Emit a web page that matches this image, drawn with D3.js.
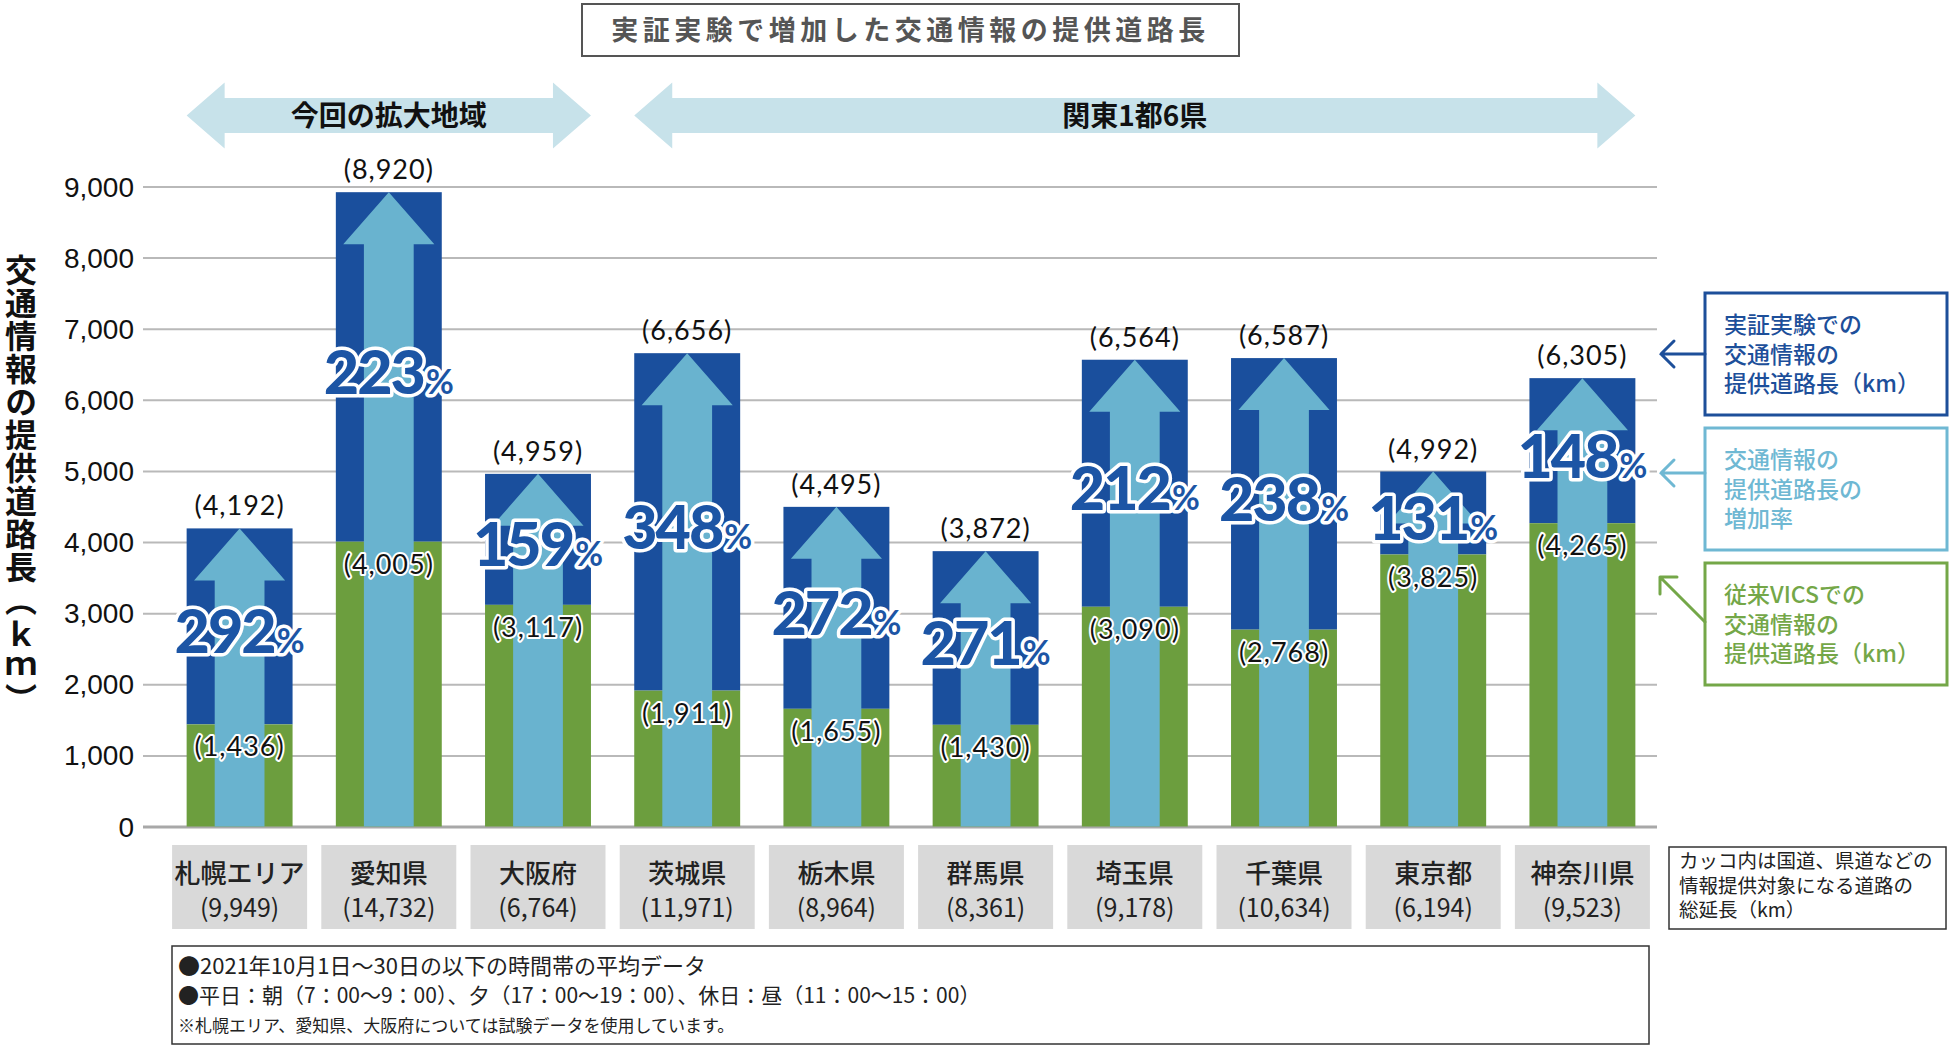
<!DOCTYPE html>
<html lang="ja">
<head>
<meta charset="utf-8">
<script src="https://cdn.jsdelivr.net/npm/d3@7"></script>
<style>
  html, body { margin: 0; padding: 0; background: #fff; }
  svg { display: block; }
  .jp { font-family: "Noto Sans CJK JP", "Noto Sans", sans-serif; }
</style>
</head>
<body>
<svg id="chart" width="1950" height="1046"></svg>
<script>
// ---- data ----
const categories = ["札幌エリア", "愛知県", "大阪府", "茨城県", "栃木県", "群馬県", "埼玉県", "千葉県", "東京都", "神奈川県"];
const roadTotals = [9949, 14732, 6764, 11971, 8964, 8361, 9178, 10634, 6194, 9523];
const vicsValues = [1436, 4005, 3117, 1911, 1655, 1430, 3090, 2768, 3825, 4265];
const trialValues = [4192, 8920, 4959, 6656, 4495, 3872, 6564, 6587, 4992, 6305];
const increaseRates = [292, 223, 159, 348, 272, 271, 212, 238, 131, 148];
const yTicks = [0, 1000, 2000, 3000, 4000, 5000, 6000, 7000, 8000, 9000];
const groupLabels = ["今回の拡大地域", "関東1都6県"];
const groupFrom = ["札幌エリア", "茨城県"];
const groupTo = ["大阪府", "神奈川県"];
const titleText = "実証実験で増加した交通情報の提供道路長";
const yAxisTitle = "交通情報の提供道路長（ｋｍ）";
const legendTexts = [
  ["実証実験での", "交通情報の", "提供道路長（km）"],
  ["交通情報の", "提供道路長の", "増加率"],
  ["従来VICSでの", "交通情報の", "提供道路長（km）"]
];
const noteText = ["カッコ内は国道、県道などの", "情報提供対象になる道路の", "総延長（km）"];
const footText = [
  "●2021年10月1日～30日の以下の時間帯の平均データ",
  "●平日：朝（7：00～9：00）、夕（17：00～19：00）、休日：昼（11：00～15：00）",
  "※札幌エリア、愛知県、大阪府については試験データを使用しています。"
];

// ---- colors ----
const C = {
  blue: "#1a4f9d", green: "#6c9e3e", arrow: "#69b3cf", band: "#c7e2ea",
  grid: "#b9b9b9", pct: "#1c55a5", legBlue: "#1d4f9a", legLight: "#6fb8d3", legGreen: "#74a748"
};

const svg = d3.select("#chart");
const fmt = d3.format(",");

const x = d3.scaleBand().domain(categories).range([165, 1657]).paddingInner(0.29).paddingOuter(0.145);
const y = d3.scaleLinear().domain([0, 9000]).range([826.5, 186.5]);
const bw = x.bandwidth();
const cx = c => x(c) + bw / 2;

const rows = categories.map((c, i) => ({
  c, road: roadTotals[i], vics: vicsValues[i], trial: trialValues[i], rate: increaseRates[i]
}));

// ---- title ----
const tg = svg.append("g");
tg.append("rect").attr("x", 582).attr("y", 4).attr("width", 657).attr("height", 52)
  .attr("fill", "#fff").attr("stroke", "#555").attr("stroke-width", 2);
tg.append("text").attr("class", "jp").attr("x", 910.5).attr("y", 40)
  .attr("text-anchor", "middle").attr("font-size", 27).attr("font-weight", 700)
  .attr("letter-spacing", 4.5).attr("fill", "#555").text(titleText);

// ---- grid / y axis ----
const axis = d3.axisLeft(y).tickValues(yTicks).tickFormat(fmt)
  .tickSizeInner(-(1657 - 143)).tickSizeOuter(0).tickPadding(9);
const ag = svg.append("g").attr("transform", "translate(143,0)").call(axis);
ag.select(".domain").remove();
ag.selectAll(".tick line").attr("stroke", C.grid).attr("stroke-width", 2);
ag.selectAll(".tick text").attr("font-family", "'Liberation Sans', Arial, sans-serif")
  .attr("font-size", 28).attr("fill", "#111").attr("dy", "0.34em");
ag.selectAll(".tick").filter(d => d === 0).select("line").attr("stroke", "#a8a8a8").attr("stroke-width", 3);

// y axis title (vertical writing)
svg.append("text").attr("class", "jp")
  .attr("x", 21).attr("y", 485)
  .attr("text-anchor", "middle")
  .style("writing-mode", "vertical-rl")
  .attr("font-size", 32).attr("font-weight", 700).attr("fill", "#111")
  .attr("letter-spacing", 1)
  .text(yAxisTitle);

// ---- group header arrows ----
const hy = 115.5, shaftH = 17.5, headH = 33, headL = 38;
groupLabels.forEach((lab, i) => {
  const x0 = x(groupFrom[i]), x1 = x(groupTo[i]) + bw;
  const p = [
    [x0, hy], [x0 + headL, hy - headH], [x0 + headL, hy - shaftH], [x1 - headL, hy - shaftH],
    [x1 - headL, hy - headH], [x1, hy], [x1 - headL, hy + headH], [x1 - headL, hy + shaftH],
    [x0 + headL, hy + shaftH], [x0 + headL, hy + headH]
  ];
  svg.append("path").attr("d", d3.line()(p) + "Z").attr("fill", C.band);
  svg.append("text").attr("class", "jp").attr("x", (x0 + x1) / 2).attr("y", hy + 10)
    .attr("text-anchor", "middle").attr("font-size", 28).attr("font-weight", 700)
    .attr("fill", "#111").text(lab);
});

// ---- bars ----
const bars = svg.append("g").selectAll("g").data(rows).join("g");
bars.append("rect").attr("x", d => x(d.c)).attr("width", bw)
  .attr("y", d => y(d.trial)).attr("height", d => y(d.vics) - y(d.trial)).attr("fill", C.blue);
bars.append("rect").attr("x", d => x(d.c)).attr("width", bw)
  .attr("y", d => y(d.vics)).attr("height", d => y(0) - y(d.vics)).attr("fill", C.green);
bars.append("path").attr("fill", C.arrow).attr("d", d => {
  const c = cx(d.c), top = y(d.trial), bot = y(0);
  const sh = bw * 0.235, hh = bw * 0.43, hl = 52;
  return d3.line()([
    [c, top], [c + hh, top + hl], [c + sh, top + hl], [c + sh, bot],
    [c - sh, bot], [c - sh, top + hl], [c - hh, top + hl]
  ]) + "Z";
});

const numFont = "Lato, 'Open Sans', sans-serif";
// total labels above
bars.append("text").attr("x", d => cx(d.c)).attr("y", d => y(d.trial) - 13)
  .attr("text-anchor", "middle").attr("font-family", numFont).attr("font-size", 27)
  .attr("letter-spacing", 1).attr("fill", "#111").text(d => "(" + fmt(d.trial) + ")");
// vics labels inside
bars.append("text").attr("x", d => cx(d.c)).attr("y", d => y(d.vics) + 32)
  .attr("text-anchor", "middle").attr("font-family", numFont).attr("font-size", 27)
  .attr("letter-spacing", 1).attr("fill", "#111")
  .attr("stroke", "#fff").attr("stroke-width", 4).attr("stroke-linejoin", "round")
  .attr("paint-order", "stroke").text(d => "(" + fmt(d.vics) + ")");
// rate labels
const rt = bars.append("text")
  .attr("x", d => cx(d.c)).attr("y", d => (y(d.trial) + y(d.vics)) / 2 + 27)
  .attr("text-anchor", "middle").attr("font-family", numFont).attr("font-weight", 900)
  .attr("fill", C.pct).attr("stroke", "#fff").attr("stroke-width", 7)
  .attr("stroke-linejoin", "round").attr("paint-order", "stroke");
rt.append("tspan").attr("font-size", 61).attr("letter-spacing", -2).text(d => d.rate);
rt.append("tspan").attr("font-size", 34).attr("font-weight", 700).attr("dx", 2).text("%");

// ---- category boxes ----
const cb = svg.append("g").selectAll("g").data(rows).join("g");
cb.append("rect").attr("x", d => cx(d.c) - 67.5).attr("y", 845).attr("width", 135).attr("height", 84)
  .attr("fill", "#d9d9d9");
cb.append("text").attr("class", "jp").attr("x", d => cx(d.c)).attr("y", 883)
  .attr("text-anchor", "middle").attr("font-size", 26).attr("font-weight", 500).attr("fill", "#222")
  .text(d => d.c);
cb.append("text").attr("class", "jp").attr("x", d => cx(d.c)).attr("y", 917)
  .attr("text-anchor", "middle").attr("font-size", 25).attr("fill", "#222")
  .text(d => "(" + fmt(d.road) + ")");

// ---- right note box ----
svg.append("rect").attr("x", 1669).attr("y", 847).attr("width", 277).attr("height", 82)
  .attr("fill", "#fff").attr("stroke", "#333").attr("stroke-width", 1.5);
const nt = svg.append("text").attr("class", "jp").attr("font-size", 19.5).attr("fill", "#222");
nt.selectAll("tspan").data(noteText).join("tspan")
  .attr("x", 1679).attr("y", (d, i) => 868 + i * 24.5).text(d => d);

// ---- footnote box ----
svg.append("rect").attr("x", 172).attr("y", 946).attr("width", 1477).attr("height", 98)
  .attr("fill", "#fff").attr("stroke", "#333").attr("stroke-width", 1.5);
const ft = svg.append("text").attr("class", "jp").attr("fill", "#222");
ft.selectAll("tspan").data(footText).join("tspan")
  .attr("x", 178).attr("y", (d, i) => [974, 1003, 1032][i])
  .attr("font-size", (d, i) => [22, 21, 17][i]).text(d => d);

// ---- legend boxes ----
const legColors = [C.legBlue, C.legLight, C.legGreen];
const legTops = [293, 428, 563];
legendTexts.forEach((lines, i) => {
  const g = svg.append("g");
  g.append("rect").attr("x", 1705).attr("y", legTops[i]).attr("width", 242).attr("height", 122)
    .attr("fill", "#fff").attr("stroke", legColors[i]).attr("stroke-width", 3);
  const t = g.append("text").attr("class", "jp").attr("font-size", 23).attr("font-weight", 500)
    .attr("fill", legColors[i]);
  t.selectAll("tspan").data(lines).join("tspan")
    .attr("x", 1724).attr("y", (d, k) => legTops[i] + 40 + k * 29.5).text(d => d);
});
// legend pointers
const ptr = svg.append("g").attr("fill", "none").attr("stroke-width", 3).attr("stroke-linecap", "round");
[[354, C.legBlue], [473, C.legLight]].forEach(([py, col]) => {
  ptr.append("path").attr("stroke", col)
    .attr("d", `M1705,${py}H1661M1674,${py - 13}L1661,${py}L1674,${py + 13}`);
});
ptr.append("path").attr("stroke", C.legGreen)
  .attr("d", "M1705,622L1660,577M1660,577H1677M1660,577V594");
</script>
</body>
</html>
